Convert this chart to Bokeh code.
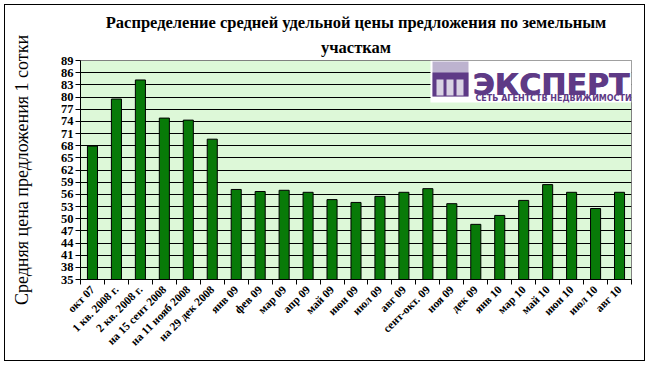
import math
from bokeh.plotting import figure
from bokeh.models import (Range1d, FixedTicker, Label, BoxAnnotation, ColumnDataSource, Title)
from bokeh.embed import file_html
from bokeh.resources import INLINE

categories = ["окт 07", "1 кв. 2008 г.", "2 кв. 2008 г.", "на 15 сент 2008",
              "на 11 нояб 2008", "на 29 дек 2008", "янв 09", "фев 09", "мар 09",
              "апр 09", "май 09", "июн 09", "июл 09", "авг 09", "сент-окт. 09",
              "ноя 09", "дек 09", "янв 10", "мар 10", "май 10", "июн 10",
              "июл 10", "авг 10"]
prices = [67.9, 79.5, 84.2, 74.8, 74.3, 69.6, 57.2, 56.7, 57.0, 56.5, 54.7,
          54.0, 55.5, 56.5, 57.4, 53.7, 48.6, 50.8, 54.5, 58.4, 56.5, 52.5, 56.5]
y_ticks = list(range(35, 90, 3))

title_line1 = "Распределение средней удельной цены предложения по земельным"
title_line2 = "участкам"
y_title = "Средняя цена предложения 1 сотки"

n = len(categories)
centers = [i + 0.5 for i in range(n)]
bounds = list(range(n + 1))

src = ColumnDataSource(dict(x=centers, top=prices, cat=categories))

SERIF = "Liberation Serif"

p = figure(width=641, height=357, output_backend="svg", toolbar_location=None,
           x_range=Range1d(0, n), y_range=Range1d(35, 89),
           min_border_left=75, min_border_right=15, min_border_top=55,
           min_border_bottom=83)
p.styles = {"border": "1px solid black", "margin": "4px"}
p.background_fill_color = "#DDF8D8"
p.border_fill_color = "white"
p.outline_line_color = "#808080"

# two title lines, each centred
t2 = Title(text=title_line2, align="center", text_font=SERIF, text_font_style="bold",
           text_font_size="16.5px", text_color="black", standoff=8)
p.add_layout(t2, "above")
p.title.text = title_line1
p.title.align = "center"
p.title.text_font = SERIF
p.title.text_font_style = "bold"
p.title.text_font_size = "16.5px"
p.title.text_color = "black"
p.title.standoff = 0

p.vbar(x="x", top="top", bottom=35, width=0.42, source=src,
       fill_color="#087A08", line_color="black", line_width=1)

# axes
xa = p.xaxis[0]
xa.ticker = FixedTicker(ticks=centers, minor_ticks=bounds)
xa.major_label_overrides = {c: lab for c, lab in zip(centers, categories)}
xa.major_label_orientation = math.pi / 4
xa.major_tick_in = 0
xa.major_tick_out = 0
xa.minor_tick_in = 0
xa.minor_tick_out = 5
xa.minor_tick_line_color = "black"
xa.axis_line_color = "black"
xa.major_label_text_font = SERIF
xa.major_label_text_font_style = "bold"
xa.major_label_text_font_size = "11.5px"
xa.major_label_text_color = "black"
xa.major_label_standoff = 3

ya = p.yaxis[0]
ya.ticker = FixedTicker(ticks=y_ticks)
ya.major_tick_in = 0
ya.major_tick_out = 5
ya.minor_tick_line_color = None
ya.axis_line_color = "black"
ya.major_label_text_font = SERIF
ya.major_label_text_font_style = "bold"
ya.major_label_text_font_size = "12.5px"
ya.major_label_text_color = "black"
ya.major_label_standoff = 2
ya.axis_label = y_title
ya.axis_label_text_font = SERIF
ya.axis_label_text_font_style = "normal"
ya.axis_label_text_font_size = "18px"
ya.axis_label_text_color = "black"
ya.axis_label_standoff = 26

p.xgrid.grid_line_color = None
p.ygrid.grid_line_color = "black"
p.ygrid.grid_line_width = 1

# logo (screen units relative to the plot frame)
def box(l, r, t, b, color):
    p.add_layout(BoxAnnotation(left=l, right=r, top=t, bottom=b,
                               left_units="screen", right_units="screen",
                               top_units="screen", bottom_units="screen",
                               fill_color=color, fill_alpha=1, line_color=None))

box(350, 551, 219, 177, "white")
box(352, 388, 218, 183, "#BDB3CF")
box(352, 388, 207, 183, "#5E3A86")
box(356, 363, 200, 184, "#D9D2E3")
box(366, 373, 200, 184, "#D9D2E3")
box(376, 383, 200, 184, "#D9D2E3")
for dx in (0, 0.8):
    p.add_layout(Label(x=392 + dx, y=195, x_units="screen", y_units="screen", text="ЭКСПЕРТ",
                       text_font="DejaVu Sans", text_font_style="bold", text_font_size="30px",
                       text_color="#5E3A86", text_baseline="alphabetic"))
p.add_layout(Label(x=395, y=181, x_units="screen", y_units="screen",
                   text="СЕТЬ АГЕНТСТВ НЕДВИЖИМОСТИ",
                   text_font="DejaVu Sans", text_font_style="bold", text_font_size="8px",
                   text_color="#5E3A86", text_baseline="alphabetic"))

open("out.html", "w").write(file_html(p, INLINE))
